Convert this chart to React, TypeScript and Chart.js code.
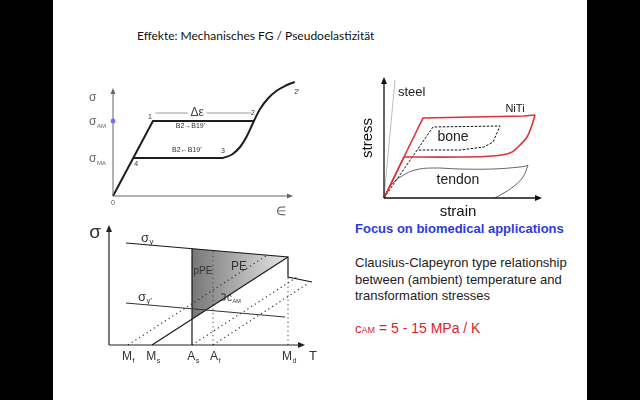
import React, { useEffect, useRef } from "react";
import { Chart, registerables } from "chart.js";
Chart.register(...registerables);

type P = [number, number];
const SANS = '"Liberation Sans", Arial, Helvetica, sans-serif';

// ===== Panel A: pseudoelastic stress–strain loop (σ vs ε)
const aLoading: P[] = [[0, 0], [2.22, 7.5], [7.83, 7.5]];
const aReturnPlateau: P[] = [[1.12, 3.8], [6.11, 3.8]];
const aUpperCurve: P[] = [
  [6.11, 3.8], [6.61, 4.15], [7.06, 4.9], [7.44, 6.0], [7.83, 7.5],
  [8.17, 8.7], [8.61, 9.75], [9.11, 10.55], [9.67, 11.1], [10.1, 11.4],
];
const aDeltaLeft: P[] = [[2.35, 8.3], [4.15, 8.3]];
const aDeltaRight: P[] = [[5.2, 8.3], [7.7, 8.3]];
const aAxisEnd: P = [10, 10.8];
const aStressLevels = [7.5, 3.8]; // σ_AM, σ_MA
const aPointNames = ["1", "2", "2'", "3", "4"];
const aForwardText = "B2\u2192B19'";
const aReverseText = "B2\u2190B19'";

// ===== Panel B: Clausius–Clapeyron diagram (σ vs T)
const bSigmaY: P[] = [[1.7, 10.2], [17.9, 8.8], [17.9, 6.8], [20.3, 6.3]];
const bSigmaY2: P[] = [[1.7, 4.2], [17.6, 2.8]];
const bMsLine: P[] = [[4.3, 0], [17.9, 8.8]];
const bAsSolid: P[] = [[8.3, 0], [8.3, 9.65]];
const bMfDotted: P[] = [[1.9, 0], [15.8, 8.98]];
const bAsDotted: P[] = [[8.3, 0], [18.9, 6.86]];
const bAfDotted: P[] = [[10.4, 0], [19.9, 6.15]];
const bAfVertical: P[] = [[10.4, 0], [10.4, 9.45]];
const bMdVertical: P[] = [[17.9, 0], [17.9, 6.8]];
const bPERegion: P[] = [[8.3, 9.65], [17.9, 8.8], [8.3, 2.59], [8.3, 9.65]];
const bAxisEnd: P = [19.6, 12];
const bTempTicks = [1.9, 4.4, 8.4, 10.6, 18.0];
const bTempMain = ["M", "M", "A", "A", "M"];
const bTempSub = ["f", "s", "s", "f", "d"];

// ===== Panel C: stress–strain of materials
const cSteel: P[] = [[0, 0], [1.1, 11.8]];
const cNiTiLoad: P[] = [[0, 0], [3.9, 8.0], [14.0, 8.2], [15.1, 8.3]];
const cNiTiUnload: P[] = [
  [15.1, 8.3], [14.8, 7.3], [14.3, 6.1], [13.4, 5.1], [12.6, 4.5],
  [10.9, 4.2], [7.6, 4.1], [2.0, 4.1],
];
const cNiTiBack: P[] = [[2.0, 4.1], [0, 0]];
const cBone: P[] = [
  [0, 0], [4.9, 7.1], [11.6, 7.2], [10.9, 5.6], [10.0, 5.1], [7.6, 4.8], [3.3, 4.8],
];
const cTendonLoad: P[] = [
  [0, 0], [0.7, 1.3], [1.8, 2.2], [3.1, 2.8], [4.8, 3.0], [7.6, 2.9],
  [10.9, 2.9], [13.6, 3.1], [14.4, 3.25],
];
const cTendonUnload: P[] = [[14.4, 3.25], [13.9, 2.1], [12.9, 1.1], [11.8, 0.4], [11.1, 0]];
const cAxisEnd: P = [15.8, 12.1];
const cNames = ["steel", "NiTi", "bone", "tendon"];

// ---------- helpers
function pts(d: P[]) {
  return d.map(([x, y]) => ({ x, y }));
}
function line(d: P[], color: string, width: number, extra: any = {}) {
  return {
    data: pts(d),
    showLine: true,
    borderColor: color,
    borderWidth: width,
    pointRadius: 0,
    fill: false,
    tension: 0,
    ...extra,
  };
}
function drawArrow(ctx: CanvasRenderingContext2D, x0: number, y0: number, x1: number, y1: number, color: string, w: number, head = 7, half = 3) {
  ctx.save();
  ctx.strokeStyle = color;
  ctx.fillStyle = color;
  ctx.lineWidth = w;
  const a = Math.atan2(y1 - y0, x1 - x0);
  const bx = x1 - head * Math.cos(a);
  const by = y1 - head * Math.sin(a);
  ctx.beginPath();
  ctx.moveTo(x0, y0);
  ctx.lineTo(bx, by);
  ctx.stroke();
  ctx.beginPath();
  ctx.moveTo(x1, y1);
  ctx.lineTo(bx - half * Math.sin(a), by + half * Math.cos(a));
  ctx.lineTo(bx + half * Math.sin(a), by - half * Math.cos(a));
  ctx.closePath();
  ctx.fill();
  ctx.restore();
}
function txt(ctx: CanvasRenderingContext2D, s: string, x: number, y: number, size: number, color: string, align: CanvasTextAlign = "center", weight = "normal") {
  ctx.save();
  ctx.font = `${weight} ${size}px ${SANS}`;
  ctx.fillStyle = color;
  ctx.textAlign = align;
  ctx.textBaseline = "middle";
  ctx.fillText(s, x, y);
  ctx.restore();
}
function subTxt(ctx: CanvasRenderingContext2D, main: string, sub: string, x: number, yc: number, size: number, color: string, align: "left" | "center" = "left", subScale = 0.6) {
  ctx.save();
  ctx.fillStyle = color;
  ctx.textBaseline = "alphabetic";
  ctx.textAlign = "left";
  ctx.font = `${size}px ${SANS}`;
  const mw = ctx.measureText(main).width;
  ctx.font = `${size * subScale}px ${SANS}`;
  const sw = ctx.measureText(sub).width;
  const sx = align === "center" ? x - (mw + sw) / 2 : x;
  const base = yc + size * 0.35;
  ctx.font = `${size}px ${SANS}`;
  ctx.fillText(main, sx, base);
  ctx.font = `${size * subScale}px ${SANS}`;
  ctx.fillText(sub, sx + mw + 0.5, base + size * 0.22);
  ctx.restore();
}
function baseOptions(xmin: number, xmax: number, ymin: number, ymax: number) {
  return {
    animation: false,
    responsive: false,
    maintainAspectRatio: false,
    events: [],
    layout: { padding: 0 },
    plugins: { legend: { display: false }, tooltip: { enabled: false } },
    scales: {
      x: { type: "linear", min: xmin, max: xmax, display: false },
      y: { type: "linear", min: ymin, max: ymax, display: false },
    },
  };
}

// ---------- chart configs
function configA(): any {
  const ink = "#1e1e1e";
  return {
    type: "scatter",
    data: {
      datasets: [
        line(aLoading, ink, 2),
        line(aReturnPlateau, ink, 2),
        line(aUpperCurve, ink, 2, { tension: 0.4 }),
        line(aDeltaLeft, "#9a9a9a", 1),
        line(aDeltaRight, "#9a9a9a", 1),
      ],
    },
    options: baseOptions(-1.5, 11.5, -2.5, 12),
    plugins: [
      {
        id: "panelA",
        afterDatasetsDraw(chart: any) {
          const ctx = chart.ctx;
          const X = (v: number) => chart.scales.x.getPixelForValue(v);
          const Y = (v: number) => chart.scales.y.getPixelForValue(v);
          drawArrow(ctx, X(0), Y(0), X(aAxisEnd[0]), Y(0), "#666", 1, 6, 2.5);
          drawArrow(ctx, X(0), Y(0), X(0), Y(aAxisEnd[1]), "#666", 1, 6, 2.5);
          ctx.save();
          ctx.fillStyle = "rgba(100,100,255,0.85)";
          ctx.beginPath();
          ctx.arc(X(0), Y(aStressLevels[0]), 2.5, 0, Math.PI * 2);
          ctx.fill();
          ctx.restore();
          const lx = X(0) - 24;
          subTxt(ctx, "\u03c3", "", lx, Y(9.9), 12, "#666");
          subTxt(ctx, "\u03c3", "AM", lx, Y(aStressLevels[0]), 12, "#666", "left", 0.5);
          subTxt(ctx, "\u03c3", "MA", lx, Y(aStressLevels[1]), 12, "#666", "left", 0.5);
          txt(ctx, "0", X(0), Y(0) + 7, 7, "#555");
          txt(ctx, "\u2208", X(9.33), Y(-1.6), 12, "#555");
          const anchors: P[] = [aLoading[1], aLoading[2], aUpperCurve[aUpperCurve.length - 1], aReturnPlateau[1], aReturnPlateau[0]];
          const offs: P[] = [[-3, -4], [-1, -8], [2, 10], [0, -7], [3, 6]];
          aPointNames.forEach((n, i) => txt(ctx, n, X(anchors[i][0]) + offs[i][0], Y(anchors[i][1]) + offs[i][1], 7, "#333"));
          txt(ctx, "\u0394\u03b5", X(4.67), Y(8.35), 12, "#444");
          txt(ctx, aForwardText, X(4.3), Y(7.0), 7, "#333");
          txt(ctx, aReverseText, X(4.1), Y(4.6), 7, "#333");
        },
      },
    ],
  };
}

function configB(): any {
  const ink = "#1a1a1a";
  const dot = { borderDash: [1.2, 3.2] };
  return {
    type: "scatter",
    data: {
      datasets: [
        line(bSigmaY, ink, 1.2),
        line(bSigmaY2, "#333", 1),
        line(bMsLine, ink, 1.2),
        line(bAsSolid, ink, 1.2),
        line(bMfDotted, "#333", 1.2, dot),
        line(bAsDotted, "#333", 1.2, dot),
        line(bAfDotted, "#333", 1.2, dot),
        line(bAfVertical, "#444", 1, dot),
        line(bMdVertical, "#444", 1, dot),
        line(bPERegion, "rgba(0,0,0,0)", 0, {
          order: 10,
          fill: "shape",
          backgroundColor: (c: any) => {
            const chart = c.chart;
            if (!chart.chartArea) return "#aaa";
            const x0 = chart.scales.x.getPixelForValue(bPERegion[0][0]);
            const x1 = chart.scales.x.getPixelForValue(bPERegion[1][0]);
            const g = chart.ctx.createLinearGradient(x0, 0, x1, 0);
            g.addColorStop(0, "#777");
            g.addColorStop(0.5, "#b0b0b0");
            g.addColorStop(1, "#e6e6e6");
            return g;
          },
        }),
      ],
    },
    options: baseOptions(-2, 22, -2, 12.5),
    plugins: [
      {
        id: "panelB",
        afterDatasetsDraw(chart: any) {
          const ctx = chart.ctx;
          const X = (v: number) => chart.scales.x.getPixelForValue(v);
          const Y = (v: number) => chart.scales.y.getPixelForValue(v);
          drawArrow(ctx, X(0), Y(0), X(bAxisEnd[0]), Y(0), "#222", 1.2, 7, 3);
          drawArrow(ctx, X(0), Y(0), X(0), Y(bAxisEnd[1]), "#222", 1.2, 7, 3);
          txt(ctx, "\u03c3", X(-1.4), Y(11.2), 19, "#333");
          bTempTicks.forEach((t, i) => subTxt(ctx, bTempMain[i], bTempSub[i], X(t), Y(-1.1), 12, "#333", "center"));
          txt(ctx, "T", X(20.4), Y(-1.1), 13, "#333");
          subTxt(ctx, "\u03c3", "y", X(3.2), Y(10.8), 13, "#333", "left");
          subTxt(ctx, "\u03c3", "y'", X(2.9), Y(4.9), 13, "#333", "left");
          txt(ctx, "pPE", X(9.4), Y(7.4), 10, "#333");
          subTxt(ctx, "PE", "", X(13.0), Y(7.9), 12, "#333", "center");
          ctx.save();
          ctx.strokeStyle = "#333";
          ctx.lineWidth = 1;
          ctx.beginPath();
          const mx = X(11.2), my = Y(4.8);
          ctx.moveTo(mx, my - 3);
          ctx.lineTo(mx + 4, my - 3);
          ctx.lineTo(mx + 4, my + 3);
          ctx.lineTo(mx, my + 3);
          ctx.stroke();
          ctx.restore();
          subTxt(ctx, "c", "AM", X(11.8), Y(4.8), 10, "#333", "left", 0.55);
        },
      },
    ],
  };
}

function configC(): any {
  const red = "#e0303c";
  return {
    type: "scatter",
    data: {
      datasets: [
        line(cSteel, "#bdbdbd", 1),
        line(cNiTiLoad, red, 1.6),
        line(cNiTiUnload, red, 1.6, { tension: 0.35 }),
        line(cNiTiBack, red, 1.6),
        line(cBone, "#111", 1, { borderDash: [2.5, 1.5] }),
        line(cTendonLoad, "#666", 1, { tension: 0.4 }),
        line(cTendonUnload, "#666", 1, { tension: 0.4 }),
      ],
    },
    options: baseOptions(-2.4, 17.6, -2.2, 12.8),
    plugins: [
      {
        id: "panelC",
        afterDatasetsDraw(chart: any) {
          const ctx = chart.ctx;
          const X = (v: number) => chart.scales.x.getPixelForValue(v);
          const Y = (v: number) => chart.scales.y.getPixelForValue(v);
          drawArrow(ctx, X(0), Y(0), X(cAxisEnd[0]), Y(0), "#111", 1.3, 7, 3);
          drawArrow(ctx, X(0), Y(0), X(0), Y(cAxisEnd[1]), "#111", 1.3, 7, 3);
          txt(ctx, cNames[0], X(1.4), Y(10.55), 13, "#222", "left");
          txt(ctx, cNames[1], X(13.1), Y(8.9), 11, "#222");
          txt(ctx, cNames[2], X(6.9), Y(6.1), 14, "#222");
          txt(ctx, cNames[3], X(7.4), Y(1.8), 14, "#222");
          txt(ctx, "strain", X(7.4), Y(-1.4), 15, "#111");
          ctx.save();
          ctx.translate(X(-1.6), Y(6.0));
          ctx.rotate(-Math.PI / 2);
          txt(ctx, "stress", 0, 0, 15, "#111");
          ctx.restore();
        },
      },
    ],
  };
}

function ChartBox(props: { left: number; top: number; width: number; height: number; make: () => any }) {
  const ref = useRef<HTMLCanvasElement>(null);
  useEffect(() => {
    const c = new Chart(ref.current as HTMLCanvasElement, props.make());
    return () => c.destroy();
  }, []);
  return (
    <canvas
      ref={ref}
      width={props.width}
      height={props.height}
      style={{ position: "absolute", left: props.left, top: props.top, width: props.width, height: props.height }}
    />
  );
}

export default function App() {
  const abs = (left: number, top: number, extra: any = {}) => ({ position: "absolute" as const, left, top, whiteSpace: "nowrap" as const, ...extra });
  return (
    <div style={{ position: "fixed", left: 0, top: 0, width: 640, height: 400, background: "#000", overflow: "hidden" }}>
      <div style={{ position: "absolute", left: 53, top: 0, width: 534, height: 400, background: "#fff" }} />
      <div style={abs(137, 28, { font: `12px Lato, ${SANS}`, lineHeight: "16px", color: "#111" })}>
        Effekte: Mechanisches FG / Pseudoelastizität
      </div>
      <ChartBox left={86} top={76} width={234} height={145} make={configA} />
      <ChartBox left={89} top={220} width={240} height={145} make={configB} />
      <ChartBox left={360} top={70} width={200} height={150} make={configC} />
      <div style={abs(355, 221, { font: `bold 13px ${SANS}`, lineHeight: "16px", color: "#2b3bdc" })}>
        Focus on biomedical applications
      </div>
      <div style={abs(355, 255, { font: `13px ${SANS}`, lineHeight: "16.5px", color: "#222" })}>
        Clausius-Clapeyron type relationship
        <br />
        between (ambient) temperature and
        <br />
        transformation stresses
      </div>
      <div style={abs(355, 319, { font: `14px ${SANS}`, lineHeight: "18px", color: "#e0202a" })}>
        <span style={{ fontSize: 13 }}>c</span>
        <span style={{ fontSize: 9 }}>AM</span> = 5 - 15 MPa / K
      </div>
    </div>
  );
}
